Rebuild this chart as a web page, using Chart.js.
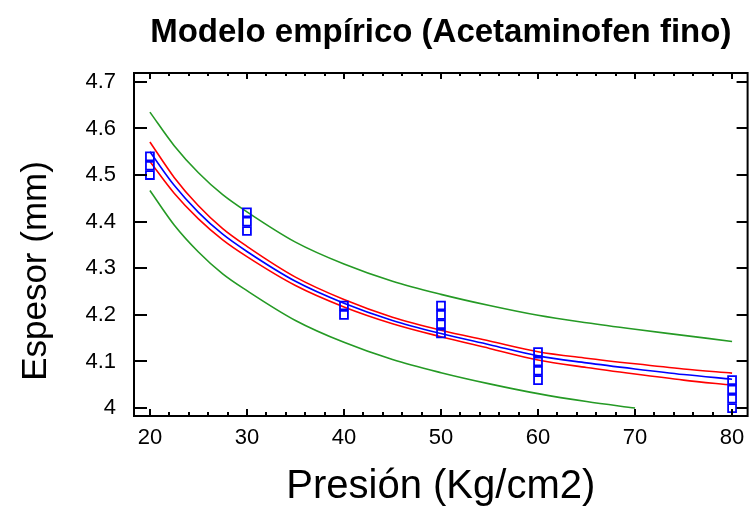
<!DOCTYPE html>
<html>
<head>
<meta charset="utf-8">
<script src="https://cdn.jsdelivr.net/npm/chart.js@4/dist/chart.umd.min.js"></script>
<style>
  html, body { margin: 0; padding: 0; background: #fff; }
  #wrap { width: 755px; height: 512px; }
</style>
</head>
<body>
<div id="wrap"><canvas id="c" width="755" height="512"></canvas></div>
<script>
// ---- data ----
const chartTitle = 'Modelo empírico (Acetaminofen fino)';
const xTitle = 'Presión (Kg/cm2)';
const yTitle = 'Espesor (mm)';

const xTicks = [20, 30, 40, 50, 60, 70, 80];
const xMinorTicks = [22, 24, 26, 28, 32, 34, 36, 38, 42, 44, 46, 48, 52, 54, 56, 58, 62, 64, 66, 68, 72, 74, 76, 78];
const yTicks = [4.0, 4.1, 4.2, 4.3, 4.4, 4.5, 4.6, 4.7];

// fitted curve and bands, read at these pressures
const pressure     = [20, 22.5, 25, 27.5, 30, 35, 40, 45, 50, 55, 60, 65, 70, 75, 80];
const fitThickness = [4.550, 4.478, 4.420, 4.373, 4.336, 4.272, 4.225, 4.188, 4.160, 4.136, 4.112, 4.097, 4.084, 4.072, 4.062];
const confUpper    = [4.571, 4.495, 4.434, 4.385, 4.347, 4.281, 4.233, 4.195, 4.167, 4.144, 4.121, 4.107, 4.095, 4.084, 4.075];
const confLower    = [4.529, 4.461, 4.406, 4.361, 4.325, 4.263, 4.217, 4.181, 4.153, 4.128, 4.103, 4.087, 4.073, 4.060, 4.049];
const predUpper    = [4.635, 4.563, 4.505, 4.458, 4.421, 4.356, 4.309, 4.272, 4.244, 4.220, 4.199, 4.183, 4.169, 4.156, 4.143];
const predLower    = [4.467, 4.393, 4.335, 4.288, 4.252, 4.188, 4.141, 4.104, 4.076, 4.052, 4.031, 4.014, 4.000, null, null];

// observed points
const obsPressure  = [20, 20, 20, 30, 30, 30, 40, 40, 50, 50, 50, 50, 60, 60, 60, 60, 80, 80, 80, 80];
const obsThickness = [4.50, 4.52, 4.54, 4.38, 4.40, 4.42, 4.20, 4.22, 4.16, 4.18, 4.20, 4.22, 4.06, 4.08, 4.10, 4.12, 4.00, 4.02, 4.04, 4.06];

// ---- build ----
const pts = (xs, ys) => xs.map((x, i) => ({ x: x, y: ys[i] }));
const tickFont = { family: "'Liberation Sans', Arial, sans-serif", size: 22 };
const GREEN = '#259a25', RED = '#ff0000', BLUE = '#0000ff';

const lineDs = (label, ys, color, order) => ({
  label, data: pts(pressure, ys), showLine: true, borderColor: color, backgroundColor: color,
  borderWidth: 1.6, pointRadius: 0, cubicInterpolationMode: 'monotone', spanGaps: false, order
});

const framePlugin = {
  id: 'frameTicks',
  afterDatasetsDraw(chart) {
    const { ctx, chartArea: a, scales: { x, y } } = chart;
    ctx.save();
    ctx.strokeStyle = '#000';
    ctx.lineWidth = 2;
    ctx.strokeRect(a.left, a.top, a.right - a.left, a.bottom - a.top);
    ctx.beginPath();
    xTicks.forEach(v => {
      const px = Math.round(x.getPixelForValue(v));
      ctx.moveTo(px, a.bottom); ctx.lineTo(px, a.bottom - 7);
      ctx.moveTo(px, a.top); ctx.lineTo(px, a.top + 6);
    });
    xMinorTicks.forEach(v => {
      const px = Math.round(x.getPixelForValue(v));
      ctx.moveTo(px, a.bottom); ctx.lineTo(px, a.bottom - 4);
      ctx.moveTo(px, a.top); ctx.lineTo(px, a.top + 3);
    });
    yTicks.forEach(v => {
      const py = Math.round(y.getPixelForValue(v));
      ctx.moveTo(a.left, py); ctx.lineTo(a.left + 13, py);
      ctx.moveTo(a.right, py); ctx.lineTo(a.right - 11, py);
    });
    ctx.stroke();
    // y axis title
    ctx.fillStyle = '#000';
    ctx.font = "35px 'Liberation Sans', Arial, sans-serif";
    ctx.textAlign = 'center';
    ctx.textBaseline = 'middle';
    ctx.translate(36, 271);
    ctx.rotate(-Math.PI / 2);
    ctx.fillText(yTitle, 0, 0);
    ctx.restore();
  }
};

new Chart(document.getElementById('c'), {
  type: 'scatter',
  data: {
    datasets: [
      {
        label: 'Observado', data: pts(obsPressure, obsThickness), pointStyle: 'rect',
        pointRadius: 5.6, pointHoverRadius: 5.6, borderColor: BLUE, backgroundColor: 'rgba(0,0,0,0)',
        borderWidth: 1.8, order: 0
      },
      lineDs('Ajuste', fitThickness, BLUE, 1),
      lineDs('Conf. sup.', confUpper, RED, 2),
      lineDs('Conf. inf.', confLower, RED, 2),
      lineDs('Pred. sup.', predUpper, GREEN, 3),
      lineDs('Pred. inf.', predLower, GREEN, 3)
    ]
  },
  options: {
    responsive: false,
    animation: false,
    layout: { padding: { left: 0, right: 2, top: 0, bottom: 0 } },
    plugins: {
      legend: { display: false },
      tooltip: { enabled: false },
      title: {
        display: true, text: chartTitle, fullSize: false, color: '#000',
        font: { family: "'Liberation Sans', Arial, sans-serif", size: 33, weight: 'bold', lineHeight: 1.2 },
        padding: { top: 13, bottom: 20.4 }
      }
    },
    scales: {
      x: {
        type: 'linear', min: 18.36, max: 81.6,
        afterBuildTicks: s => { s.ticks = xTicks.map(v => ({ value: v })); },
        afterFit: s => { s.height = 96; },
        grid: { display: false, drawTicks: false },
        border: { display: false },
        ticks: { color: '#000', font: tickFont, padding: 9, maxRotation: 0, callback: v => String(v) },
        title: {
          display: true, text: xTitle, color: '#000',
          font: { family: "'Liberation Sans', Arial, sans-serif", size: 40, lineHeight: 1.2 },
          padding: { top: 0, bottom: 1 }
        }
      },
      y: {
        type: 'linear', min: 3.983, max: 4.719,
        afterBuildTicks: s => { s.ticks = yTicks.map(v => ({ value: v })); },
        afterFit: s => { s.width = 134; },
        grid: { display: false, drawTicks: false },
        border: { display: false },
        ticks: { color: '#000', font: tickFont, padding: 18, callback: v => String(Number(v.toFixed(1))) }
      }
    }
  },
  plugins: [framePlugin]
});
</script>
</body>
</html>
